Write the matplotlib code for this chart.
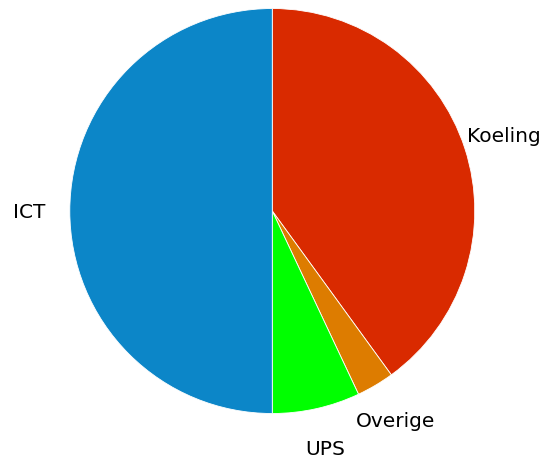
import matplotlib
matplotlib.use("Agg")
import matplotlib.pyplot as plt

LABELS = ["Koeling", "Overige", "UPS", "ICT"]
VALUES = [40, 3, 7, 50]
COLORS = ["#d92a00", "#dd7c00", "#00ff00", "#0c86c8"]

fig = plt.figure(figsize=(5.43, 4.6), dpi=100)
ax = fig.add_axes([0.1285, 0.0989, 0.7459, 0.8804])

wedges, texts = ax.pie(VALUES, labels=LABELS, colors=COLORS,
                       startangle=90, counterclock=False,
                       labeldistance=1.2,
                       wedgeprops={"edgecolor": "white", "linewidth": 0.6})
for t in texts:
	# labels sit centred on their anchor point
	t.set_ha("center")
	t.set_va("center")
	t.set_fontsize(14.5)

ax.set_xlim(-1, 1)
ax.set_ylim(-1, 1)
ax.set_aspect("equal")

fig.savefig("out.png", dpi=100)
